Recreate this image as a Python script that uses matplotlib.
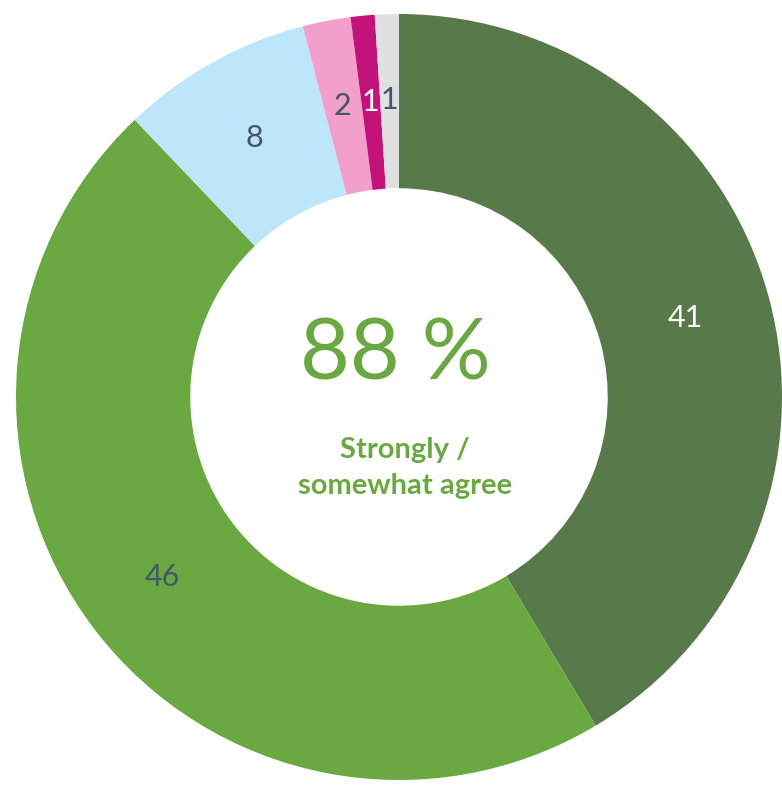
import matplotlib
matplotlib.use("Agg")
import matplotlib.pyplot as plt

categories = ["Strongly agree", "Somewhat agree", "Neither", "Somewhat disagree", "Strongly disagree", "Don't know"]
values = [41, 46, 8, 2, 1, 1]
labels = ["41", "46", "8", "2", "1", "1"]
colors = ["#587A4B", "#6AA842", "#BDE6FA", "#F2A0CB", "#C3137A", "#E0E0E0"]
label_colors = ["white", "#44546A", "#44546A", "#44546A", "white", "#44546A"]
center_value = "88 %"
center_caption = "Strongly /\nsomewhat agree"

plt.rcParams['font.family'] = ['Lato', 'DejaVu Sans']

W, H = 782, 786
fig = plt.figure(figsize=(W/100, H/100), dpi=100)
ax = fig.add_axes([0, 0, 1, 1])
cx, cy, R = 399, H - 397, 383
wedges, texts = ax.pie(values, labels=labels, colors=colors, startangle=90, counterclock=False,
                       center=(cx, cy), radius=R, labeldistance=0.775,
                       wedgeprops=dict(width=R*0.455, linewidth=0),
                       textprops=dict(fontsize=22, ha='center', va='center'))
for t, c in zip(texts, label_colors):
    t.set_color(c)
    t.set_ha('center'); t.set_va('center')
ax.set_xlim(0, W)
ax.set_ylim(0, H)
ax.set_aspect('equal')
ax.axis('off')

ax.text(cx - 4, H - 355, center_value, fontsize=62, color="#6AA842", ha='center', va='center')
ax.text(cx + 6, H - 468, center_caption, fontsize=21, fontweight='bold', color="#6AA842",
        ha='center', va='center', linespacing=1.45)

fig.savefig("out.png", dpi=100)
